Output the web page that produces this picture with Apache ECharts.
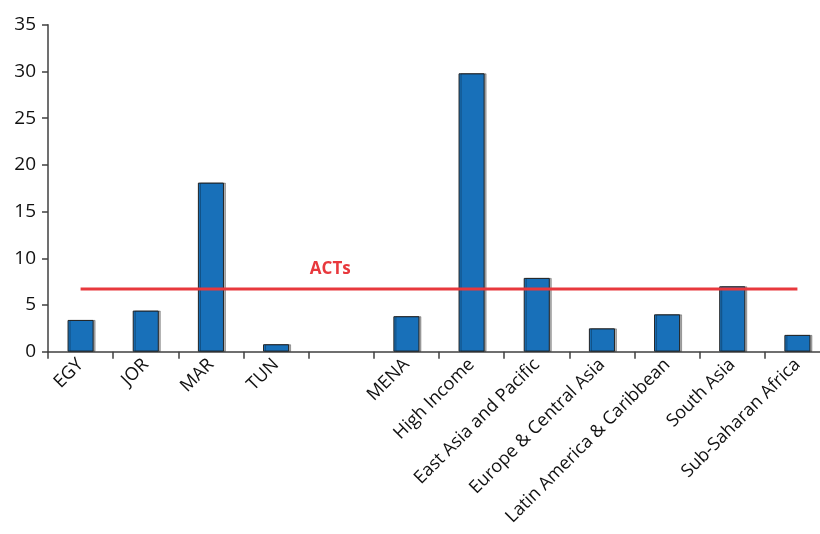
<!DOCTYPE html>
<html><head><meta charset="utf-8">
<script src="https://cdn.jsdelivr.net/npm/echarts@6/dist/echarts.min.js"></script>
<style>html,body{margin:0;padding:0;background:#fff}#c{width:820px;height:534px}</style>
</head><body><div id="c"></div>
<script>
const categories = ['EGY','JOR','MAR','TUN','','MENA','High Income','East Asia and Pacific','Europe & Central Asia','Latin America & Caribbean','South Asia','Sub-Saharan Africa'];
const values = [3.4, 4.4, 18.1, 0.8, null, 3.8, 29.8, 7.9, 2.5, 4.0, 7.0, 1.8];
const actsValue = 6.7;
const actsLabel = 'ACTs';
const yTicks = [0,5,10,15,20,25,30,35];

const font = '"Open Sans", "Noto Sans", sans-serif';
const chart = echarts.init(document.getElementById('c'), null, {renderer:'canvas'});
chart.setOption({
  animation:false,
  grid:{left:48, top:24.7, bottom:182.3, right:-10, containLabel:false, outerBoundsMode:'none'},
  xAxis:{type:'category', data:categories,
    axisLine:{lineStyle:{color:'#404040', width:1.5}},
    axisTick:{show:true, alignWithLabel:false, length:7, lineStyle:{color:'#404040', width:1.5}},
    axisLabel:{rotate:45, interval:0, fontSize:18, color:'#111', fontFamily:font, margin:10}
  },
  yAxis:{type:'value', min:yTicks[0], max:yTicks[yTicks.length-1], interval:5,
    splitLine:{show:false},
    axisLine:{show:true, lineStyle:{color:'#404040', width:1.5}},
    axisTick:{show:true, length:6, lineStyle:{color:'#404040', width:1.5}},
    axisLabel:{fontSize:19, color:'#111', fontFamily:font, margin:12}
  },
  series:[
    {type:'bar', data:values, barWidth:'40%',
     itemStyle:{color:'#1870b9', borderColor:'#222', borderWidth:1,
       shadowColor:'rgba(0,0,0,0.3)', shadowOffsetX:2, shadowOffsetY:0, shadowBlur:0}},
    {type:'line', data:categories.map(()=>actsValue), symbol:'none', z:5,
     lineStyle:{color:'#e8383d', width:3},
     markPoint:{symbol:'circle', symbolSize:1, itemStyle:{color:'rgba(0,0,0,0)'},
       data:[{coord:[4, actsValue]}],
       label:{show:true, position:'inside', formatter:actsLabel, color:'#e8383d', fontWeight:'bold', fontSize:17, fontFamily:font, offset:[-11,-20]}}
    }
  ]
});
</script></body></html>
